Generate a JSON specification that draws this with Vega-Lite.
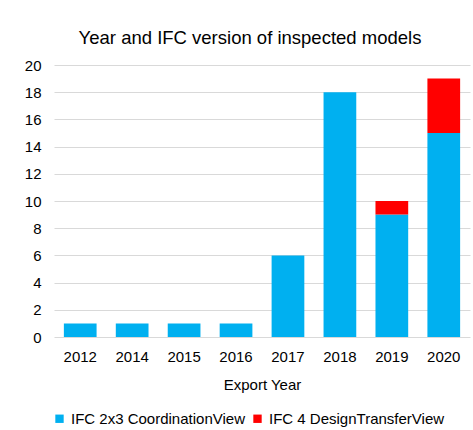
{
  "$schema": "https://vega.github.io/schema/vega-lite/v6.json",
  "width": 416,
  "height": 272,
  "padding": {"left": 24, "top": 28, "right": 4, "bottom": 4},
  "background": "white",
  "title": {
    "text": "Year and IFC version of inspected models",
    "font": "Liberation Sans",
    "fontSize": 18.5,
    "fontWeight": "normal",
    "color": "#000000",
    "anchor": "middle",
    "dx": -12,
    "offset": 11
  },
  "data": {
    "values": [
      {"year": "2012", "version": "IFC 2x3 CoordinationView", "count": 1},
      {"year": "2014", "version": "IFC 2x3 CoordinationView", "count": 1},
      {"year": "2015", "version": "IFC 2x3 CoordinationView", "count": 1},
      {"year": "2016", "version": "IFC 2x3 CoordinationView", "count": 1},
      {"year": "2017", "version": "IFC 2x3 CoordinationView", "count": 6},
      {"year": "2018", "version": "IFC 2x3 CoordinationView", "count": 18},
      {"year": "2019", "version": "IFC 2x3 CoordinationView", "count": 9},
      {"year": "2019", "version": "IFC 4 DesignTransferView", "count": 1},
      {"year": "2020", "version": "IFC 2x3 CoordinationView", "count": 15},
      {"year": "2020", "version": "IFC 4 DesignTransferView", "count": 4}
    ]
  },
  "mark": {"type": "bar"},
  "encoding": {
    "x": {
      "field": "year",
      "type": "nominal",
      "title": "Export Year",
      "scale": {"paddingInner": 0.37, "paddingOuter": 0.19},
      "axis": {
        "labelAngle": 0,
        "labelFont": "Liberation Sans",
        "labelFontSize": 15,
        "labelColor": "#000000",
        "labelPadding": 12,
        "ticks": false,
        "domain": false,
        "titleFont": "Liberation Sans",
        "titleFontSize": 15,
        "titleFontWeight": "normal",
        "titleColor": "#000000",
        "titlePadding": 13
      }
    },
    "y": {
      "field": "count",
      "type": "quantitative",
      "title": null,
      "scale": {"domain": [0, 20]},
      "axis": {
        "values": [0, 2, 4, 6, 8, 10, 12, 14, 16, 18, 20],
        "labelFont": "Liberation Sans",
        "labelFontSize": 15,
        "labelColor": "#000000",
        "labelPadding": 13,
        "ticks": false,
        "domain": false,
        "gridColor": "#d9d9d9",
        "gridWidth": 1
      }
    },
    "color": {
      "field": "version",
      "type": "nominal",
      "title": null,
      "scale": {
        "domain": ["IFC 2x3 CoordinationView", "IFC 4 DesignTransferView"],
        "range": ["#00B0F0", "#FF0000"]
      },
      "legend": {
        "orient": "none",
        "direction": "horizontal",
        "legendX": -2,
        "legendY": 346,
        "symbolType": "square",
        "symbolSize": 70,
        "symbolStrokeWidth": 0,
        "labelFont": "Liberation Sans",
        "labelFontSize": 15,
        "labelColor": "#000000",
        "labelOffset": 4,
        "labelLimit": 300,
        "columnPadding": 5
      }
    },
    "order": {"field": "version", "sort": "ascending"}
  },
  "config": {
    "view": {"stroke": null}
  }
}
